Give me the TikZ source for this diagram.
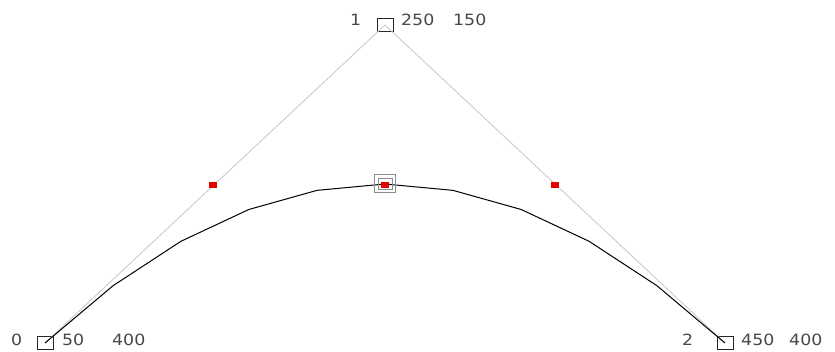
\documentclass[tikz,border=0pt]{standalone}
\usepackage{fontspec}
\setmainfont{DejaVu Sans}
\newfontfamily\lblfont[FakeStretch=1.12]{DejaVu Sans}
\begin{document}
\begin{tikzpicture}[x=1pt,y=-1pt,
  ctrlbox/.style={draw=black!85,line width=1pt,minimum width=16pt,minimum height=13pt,inner sep=0pt},
  reddot/.style={fill=red!90!black,minimum width=8pt,minimum height=6pt,inner sep=0pt},
  lbl/.style={text=black!72,font=\lblfont\fontsize{15.5}{15.5}\selectfont,inner sep=0pt,anchor=base west},
  guide/.style={draw=black!22,line width=0.8pt}]
\useasboundingbox (0,0) rectangle (835,352);
\node[ctrlbox] (p0) at (45,343) {};
\node[ctrlbox] (p1) at (385,25) {};
\node[ctrlbox] (p2) at (725,343) {};
\draw[guide] (p0.center) -- (p1.center) -- (p2.center);
\draw[black,line width=1pt] plot[domain=0:1,samples=11] ({45+680*\x},{343-636*\x+636*\x*\x});
\node[reddot] (m1) at (213,185) {};
\node[reddot] (m2) at (555,185) {};
\node[draw=black!45,line width=1pt,minimum width=21pt,minimum height=18pt,inner sep=0pt] (cout) at (385,184) {};
\node[draw=black!45,line width=1pt,minimum width=14pt,minimum height=11pt,inner sep=0pt] (cin) at (385,184) {};
\node[reddot] (mc) at (385,185) {};
\node[lbl] (l0) at (11,345) {0};
\node[lbl] (x0) at (62,345) {50};
\node[lbl] (y0) at (112,345) {400};
\node[lbl] (l1) at (350,26) {1};
\node[lbl] (x1) at (401,26) {250};
\node[lbl] (y1) at (453,26) {150};
\node[lbl] (l2) at (682,345) {2};
\node[lbl] (x2) at (741,345) {450};
\node[lbl] (y2) at (789,345) {400};
\end{tikzpicture}
\end{document}
